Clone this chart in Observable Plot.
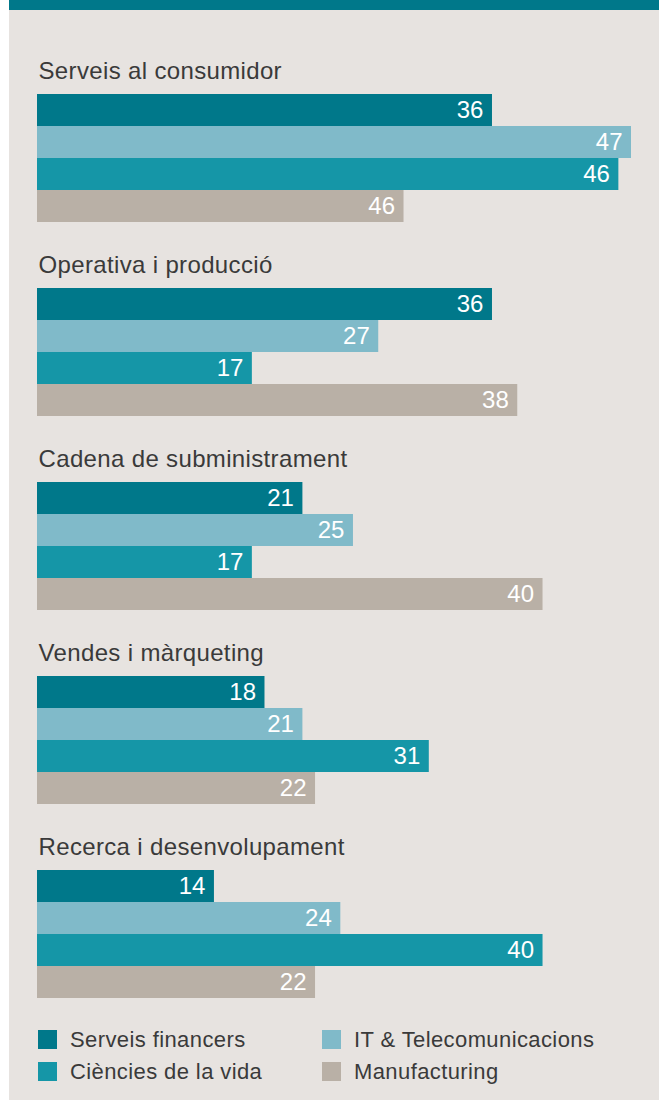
<!DOCTYPE html>
<html>
<head>
<meta charset="utf-8">
<script src="https://cdn.jsdelivr.net/npm/d3@7"></script>
<script src="https://cdn.jsdelivr.net/npm/@observablehq/plot@0.6"></script>
<style>
  html, body { margin: 0; padding: 0; background: #ffffff; }
  body { width: 659px; height: 1100px; position: relative; overflow: hidden;
         font-family: "Liberation Sans", Arial, sans-serif; }
  #panel { position: absolute; left: 9px; top: 0; width: 650px; height: 1100px; background: #e7e3e0; }
  #band { position: absolute; left: 9px; top: 0; width: 650px; height: 10px; background: #00788a; }
  #chart { position: absolute; left: 0; top: 0; }
  #legend { position: absolute; left: 38px; top: 1030px; display: grid;
            grid-template-columns: 284px auto; grid-template-rows: 32px 32px; }
  .item { display: flex; align-items: center; height: 19px; line-height: 19px;
          font-size: 22px; letter-spacing: 0.4px; color: #3a3a3a; }
  .sw { width: 19px; height: 19px; margin-right: 13px; flex: none; }
</style>
</head>
<body>
<div id="panel"></div>
<div id="band"></div>
<div id="chart"></div>
<div id="legend"></div>
<script>
// Categories (facet groups)
const groups = [
  "Serveis al consumidor",
  "Operativa i producció",
  "Cadena de subministrament",
  "Vendes i màrqueting",
  "Recerca i desenvolupament"
];
// Series
const series = ["Serveis financers", "IT & Telecomunicacions", "Ciències de la vida", "Manufacturing"];
const colors = ["#00788a", "#80bac9", "#1596a7", "#b9b0a6"];

// Values per series, in the order of groups (bar lengths as drawn)
const financers = [36, 36, 21, 18, 14];
const itTelecom = [47, 27, 25, 21, 24];
const cienciesVida = [46, 17, 17, 31, 40];
const manufacturing = [29, 38, 40, 22, 22];
// Printed labels (the first manufacturing bar is labelled 46 in the source)
const manufacturingLabels = ["46", "38", "40", "22", "22"];

const seriesValues = [financers, itTelecom, cienciesVida, manufacturing];
const seriesLabels = [
  financers.map(String),
  itTelecom.map(String),
  cienciesVida.map(String),
  manufacturingLabels
];

const rows = [];
groups.forEach((g, gi) => {
  series.forEach((s, si) => {
    rows.push({group: g, series: s, value: seriesValues[si][gi], label: seriesLabels[si][gi]});
  });
});

const chart = Plot.plot({
  width: 659,
  height: 1000,
  marginTop: 94,
  marginBottom: 2,
  marginLeft: 37,
  marginRight: 28,
  style: {background: "transparent", fontFamily: "'Liberation Sans', Arial, sans-serif"},
  x: {domain: [0, 47], axis: null},
  y: {domain: series, axis: null, padding: 0},
  fy: {domain: groups, axis: null, paddingInner: 66 / 194, paddingOuter: 0},
  color: {domain: series, range: colors},
  marks: [
    Plot.barX(rows, {x: "value", y: "series", fy: "group", fill: "series"}),
    Plot.text(rows, {
      x: "value", y: "series", fy: "group", text: "label",
      textAnchor: "end", dx: -9, fill: "white", fontSize: 24, lineAnchor: "middle"
    }),
    Plot.text(groups, {
      fy: d => d, text: d => d, frameAnchor: "top-left", textAnchor: "start",
      lineAnchor: "bottom", dy: -16, dx: 1, fill: "#3a3a3a", fontSize: 24
    })
  ]
});
chart.querySelectorAll("g").forEach(g => {
  if (g.getAttribute("fill") === "#3a3a3a") g.style.letterSpacing = "0.35px";
});
document.getElementById("chart").appendChild(chart);

const legend = document.getElementById("legend");
series.forEach((s, i) => {
  const item = document.createElement("div");
  item.className = "item";
  const sw = document.createElement("span");
  sw.className = "sw";
  sw.style.background = colors[i];
  const t = document.createElement("span");
  t.textContent = s;
  item.appendChild(sw);
  item.appendChild(t);
  legend.appendChild(item);
});
</script>
</body>
</html>
